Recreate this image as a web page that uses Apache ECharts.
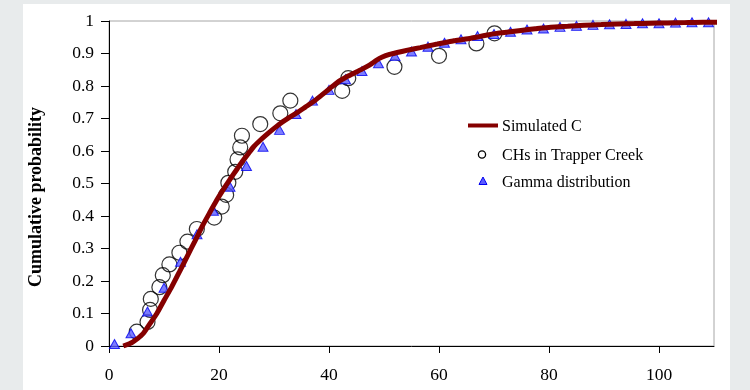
<!DOCTYPE html>
<html>
<head>
<meta charset="utf-8">
<script src="https://cdn.jsdelivr.net/npm/echarts@6/dist/echarts.min.js"></script>
<style>
  html, body { margin: 0; padding: 0; background: #e8ebec; }
  #panel { position: absolute; left: 23px; top: 4px; width: 707px; height: 386px; background: #ffffff; }
  #chart { position: absolute; left: 0; top: 0; width: 750px; height: 390px; }
</style>
</head>
<body>
<div id="panel"></div>
<div id="chart"></div>
<script>
// Simulated cumulative distribution of C (x, probability)
const simX = [2.6, 4.3, 6.2, 7.5, 8.7, 10.0, 11.4, 12.8, 14.2, 15.6, 17.0, 18.3, 19.6, 20.8, 22.0, 23.1,
  24.2, 25.3, 26.3, 27.5, 28.7, 29.9, 31.1, 32.6, 34.2, 35.7, 37.2, 38.6, 40.2, 41.6, 43.0, 44.5,
  46.0, 47.5, 48.6, 49.7, 51.0, 52.4, 54.5, 56.6, 58.2, 59.7, 61.2, 62.7, 64.3, 65.8, 67.3, 68.8,
  70.5, 72.5, 74.9, 77.5, 80.3, 83.4, 86.4, 89.5, 92.5, 95.5, 98.5, 101.5, 104.6, 108.0, 111.9];
const simY = [0, 0.012, 0.038, 0.07, 0.1, 0.14, 0.182, 0.228, 0.275, 0.322, 0.37, 0.41, 0.449, 0.482, 0.513, 0.54,
  0.567, 0.591, 0.613, 0.633, 0.651, 0.668, 0.684, 0.701, 0.718, 0.735, 0.752, 0.771, 0.793, 0.812, 0.826, 0.839,
  0.852, 0.866, 0.879, 0.889, 0.897, 0.903, 0.911, 0.918, 0.924, 0.929, 0.934, 0.939, 0.943, 0.947, 0.952, 0.957,
  0.962, 0.966, 0.971, 0.976, 0.981, 0.984, 0.987, 0.989, 0.991, 0.992, 0.993, 0.994, 0.995, 0.996, 0.996];

// Observed CHs in Trapper Creek
const chX = [5.05, 7.0, 7.47, 7.6, 9.16, 9.78, 10.98, 12.8, 14.26, 15.97, 19.13, 20.5, 21.3, 21.7, 22.95, 23.37,
  23.86, 24.17, 27.5, 31.15, 32.97, 42.4, 43.5, 51.9, 60.0, 66.8, 70.1];
const chY = [0.044, 0.074, 0.111, 0.145, 0.181, 0.218, 0.251, 0.287, 0.321, 0.36, 0.395, 0.429, 0.465, 0.502, 0.536, 0.574,
  0.611, 0.647, 0.683, 0.716, 0.755, 0.785, 0.824, 0.859, 0.893, 0.931, 0.962];

// Fitted gamma distribution
const gammaX = [1, 4, 7, 10, 13, 16, 19, 22, 25, 28, 31, 34, 37, 40, 43, 46, 49, 52, 55, 58, 61, 64, 67, 70,
  73, 76, 79, 82, 85, 88, 91, 94, 97, 100, 103, 106, 109];
const gammaY = [0.006, 0.039, 0.106, 0.179, 0.259, 0.344, 0.416, 0.49, 0.554, 0.613, 0.665, 0.714, 0.755, 0.788,
  0.821, 0.846, 0.870, 0.892, 0.906, 0.921, 0.933, 0.944, 0.954, 0.960, 0.967, 0.974, 0.977, 0.982, 0.985,
  0.988, 0.990, 0.991, 0.993, 0.993, 0.995, 0.996, 0.996];

const xTickValues = [0, 20, 40, 60, 80, 100];
const yTitle = 'Cumulative probability';
const seriesNames = ['Simulated C', 'CHs in Trapper Creek', 'Gamma distribution'];

const zip = (xs, ys) => xs.map((x, i) => [x, ys[i]]);
const serif = '"Liberation Serif", "Times New Roman", serif';

const lineColor = '#850000';
const triFill = '#5c5cff';
const triEdge = '#0000f0';

// Key box drawn as a small group: sample glyph + label per series
const keyLeft = 468, keyRows = [125.5, 154.5, 181];
const keyText = (i) => ({
  type: 'text', x: 502, y: keyRows[i] + 1.5,
  style: { text: seriesNames[i], fill: '#000', font: '16px ' + serif, textAlign: 'left', textVerticalAlign: 'middle' }
});
const legendGraphic = [
  { type: 'rect', shape: { x: keyLeft, y: keyRows[0] - 2, width: 30, height: 4 }, style: { fill: lineColor } },
  keyText(0),
  { type: 'circle', shape: { cx: keyLeft + 14, cy: keyRows[1], r: 3.6 }, style: { fill: 'none', stroke: '#000', lineWidth: 1.3 } },
  keyText(1),
  { type: 'polygon', shape: { points: [[keyLeft + 15, keyRows[2] - 4], [keyLeft + 19, keyRows[2] + 3.5], [keyLeft + 11, keyRows[2] + 3.5]] },
    style: { fill: triFill, stroke: triEdge, lineWidth: 1 } },
  keyText(2)
];

const chart = echarts.init(document.getElementById('chart'), null, { renderer: 'canvas' });
chart.setOption({
  backgroundColor: 'transparent',
  animation: false,
  grid: {
    left: 109, top: 21, width: 605, height: 325,
    show: true, borderColor: '#a6a6a6', borderWidth: 1, backgroundColor: 'transparent'
  },
  xAxis: {
    type: 'value', min: 0, max: 110,
    axisLine: { show: true, lineStyle: { color: '#000', width: 1 } },
    axisTick: { show: true, length: 7, customValues: xTickValues, lineStyle: { color: '#000' } },
    axisLabel: { customValues: xTickValues, margin: 20, fontFamily: serif, fontSize: 17.5, color: '#000' },
    splitLine: { show: false }
  },
  yAxis: {
    type: 'value', min: 0, max: 1, interval: 0.1,
    axisLine: { show: true, lineStyle: { color: '#000', width: 1 } },
    axisTick: { show: true, length: 8, lineStyle: { color: '#000' } },
    axisLabel: {
      margin: 15, fontFamily: serif, fontSize: 17.5, color: '#000', padding: [5, 0, 0, 0],
      formatter: v => String(Math.round(v * 10) / 10)
    },
    splitLine: { show: false }
  },
  graphic: [{
    type: 'text', x: 36, y: 197, rotation: Math.PI / 2,
    style: {
      text: yTitle, fill: '#000', font: 'bold 18px ' + serif,
      textAlign: 'center', textVerticalAlign: 'middle'
    }
  }].concat(legendGraphic),
  series: [
    {
      name: seriesNames[0], type: 'line', data: zip(simX, simY),
      showSymbol: false, symbol: 'none', clip: false, smooth: 0.2,
      lineStyle: { color: lineColor, width: 5 },
      itemStyle: { color: lineColor }
    },
    {
      name: seriesNames[1], type: 'scatter', data: zip(chX, chY),
      symbol: 'circle', symbolSize: 15, clip: false,
      itemStyle: { color: 'rgba(0,0,0,0)', borderColor: '#000', borderWidth: 1.2 }
    },
    {
      name: seriesNames[2], type: 'scatter', data: zip(gammaX, gammaY),
      symbol: 'triangle', symbolSize: [10, 9], clip: false,
      itemStyle: { color: triFill, borderColor: triEdge, borderWidth: 1 }
    }
  ]
});
</script>
</body>
</html>
